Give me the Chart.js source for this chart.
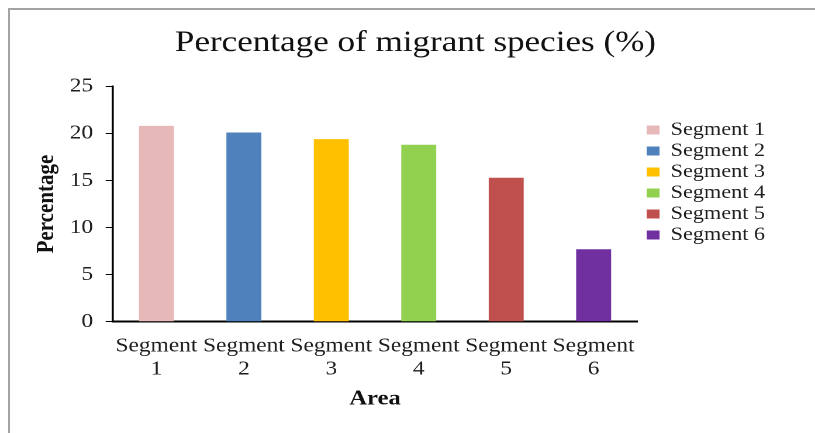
<!DOCTYPE html>
<html>
<head>
<meta charset="utf-8">
<title>Percentage of migrant species (%)</title>
<script src="https://cdn.jsdelivr.net/npm/chart.js@4.4.1/dist/chart.umd.min.js"></script>
<style>
  html, body { margin: 0; padding: 0; background: #ffffff; overflow: hidden; }
  body { width: 815px; height: 433px; position: relative; }
  /* grey frame around the chart object */
  #frame {
    position: absolute; left: 8px; top: 8px; width: 900px; height: 500px;
    border-left: 2px solid #a3a3a3; border-top: 2px solid #a3a3a3;
    box-sizing: border-box;
  }
  /* the chart is laid out on a narrower canvas and widened to the page */
  #wrap {
    position: absolute; left: 0; top: 0; width: 697px; height: 433px;
    transform: scaleX(1.1693); transform-origin: 0 0;
  }
</style>
</head>
<body>
<div id="frame"></div>
<div id="wrap"><canvas id="chart" width="697" height="433"></canvas></div>
<script>
// Segments of the study area
const categories = ['Segment 1', 'Segment 2', 'Segment 3', 'Segment 4', 'Segment 5', 'Segment 6'];
// Share of migrant species in each segment (%)
const migrantPercent = [20.8, 20.1, 19.4, 18.8, 15.3, 7.7];
// One fill per segment
const segmentColors = ['#E6B8B7', '#4F81BD', '#FFC000', '#92D050', '#C0504D', '#7030A0'];
// Value axis
const yTicks = [0, 5, 10, 15, 20, 25];

const serif = "'Liberation Serif', 'Times New Roman', serif";
const textColor = '#1e1e1e';

new Chart(document.getElementById('chart'), {
  type: 'bar',
  data: {
    labels: categories.map(c => c.split(' ')),
    datasets: [{
      label: 'Percentage',
      data: migrantPercent,
      backgroundColor: segmentColors,
      borderWidth: 0,
      barPercentage: 0.4,
      categoryPercentage: 1.0
    }]
  },
  options: {
    responsive: false,
    animation: false,
    devicePixelRatio: 2,
    layout: { padding: { top: 10, left: 46.3, right: 32.7, bottom: 21.4 } },
    plugins: {
      title: {
        display: true,
        text: 'Percentage of migrant species (%)',
        color: '#111111',
        font: { family: serif, size: 30, weight: 'normal', lineHeight: 1.2 },
        padding: { top: 15, bottom: 25.4 }
      },
      legend: {
        display: true,
        position: 'right',
        align: 'start',
        fullSize: false,
        maxWidth: 200,
        title: { display: true, text: '', font: { size: 10, lineHeight: 1 }, padding: { top: 21.5, bottom: 0.6 } },
        labels: {
          boxWidth: 11,
          boxHeight: 9,
          padding: 2,
          color: textColor,
          font: { family: serif, size: 19 },
          generateLabels: (chart) => chart.data.labels.map((l, i) => ({
            text: categories[i],
            fillStyle: segmentColors[i],
            strokeStyle: segmentColors[i],
            lineWidth: 0,
            hidden: false,
            index: i,
            fontColor: textColor
          }))
        }
      },
      tooltip: { enabled: false }
    },
    scales: {
      x: {
        grid: { display: false },
        border: { display: true, color: '#000000', width: 2 },
        ticks: {
          color: textColor,
          padding: 5,
          maxRotation: 0,
          autoSkip: false,
          font: { family: serif, size: 20, lineHeight: 1.15 }
        },
        title: {
          display: true,
          text: 'Area',
          color: '#111111',
          font: { family: serif, size: 21, weight: 'bold', lineHeight: 1.2 },
          padding: { top: 0.7, bottom: 0 }
        }
      },
      y: {
        min: 0,
        max: 25,
        afterBuildTicks: (scale) => { scale.ticks = yTicks.map(v => ({ value: v })); },
        grid: { drawOnChartArea: false, drawTicks: true, tickLength: 6, color: '#000000', lineWidth: 1 },
        border: { display: true, color: '#000000', width: 1.8 },
        ticks: {
          color: textColor,
          padding: 10.8,
          font: { family: serif, size: 20 }
        },
        title: {
          display: true,
          text: 'Percentage',
          color: '#111111',
          font: { family: serif, size: 21, weight: 'bold', lineHeight: 1.2 },
          padding: { top: -18.9, bottom: -3.8 }
        }
      },
      gap: {
        type: 'linear',
        position: 'right',
        display: true,
        grid: { display: false },
        border: { display: false },
        ticks: { display: false },
        afterFit: (scale) => { scale.width = 6; }
      }
    }
  }
});
</script>
</body>
</html>
